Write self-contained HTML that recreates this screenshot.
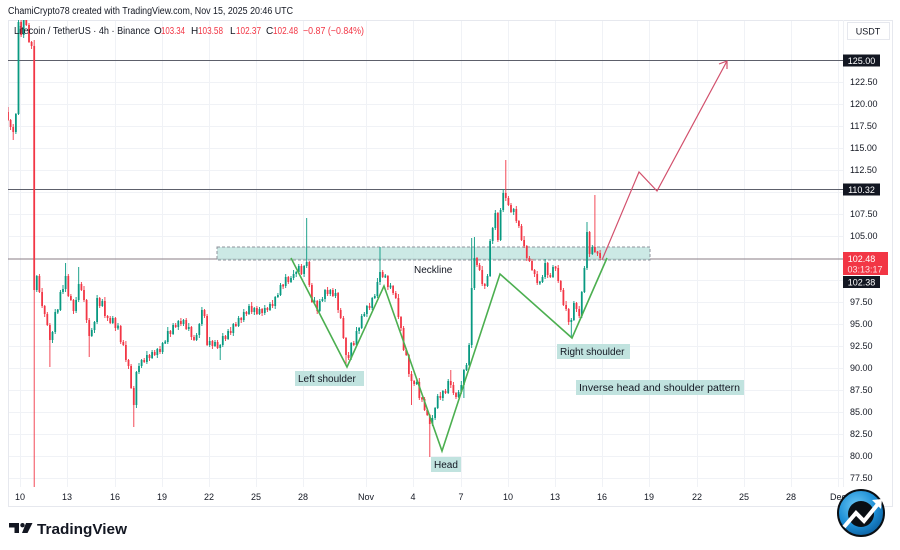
<!DOCTYPE html>
<html>
<head>
<meta charset="utf-8">
<style>
  html,body{margin:0;padding:0;background:#fff;}
  svg{display:block;font-family:"Liberation Sans",Arial,sans-serif;}
</style>
</head>
<body>
<svg width="900" height="550" viewBox="0 0 900 550" xmlns="http://www.w3.org/2000/svg">
  <defs>
    <clipPath id="pane"><rect x="8" y="20" width="835" height="467"/></clipPath>
    <radialGradient id="blue" cx="40%" cy="35%" r="70%">
      <stop offset="0" stop-color="#6cc8f5"/>
      <stop offset="0.6" stop-color="#1d8fd6"/>
      <stop offset="1" stop-color="#0c5e9e"/>
    </radialGradient>
  </defs>
  <rect width="900" height="550" fill="#fff"/>

  <text x="8" y="14" font-size="10" fill="#131722" textLength="285" lengthAdjust="spacingAndGlyphs">ChamiCrypto78 created with TradingView.com, Nov 15, 2025 20:46 UTC</text>

  <!-- grid -->
  <g stroke="#f0f2f6" stroke-width="1">
    <path d="M20.5 20V487M67.5 20V487M115.5 20V487M162.5 20V487M209.5 20V487M256.5 20V487M303.5 20V487M366.5 20V487M413.5 20V487M461.5 20V487M508.5 20V487M555.5 20V487M602.5 20V487M649.5 20V487M697.5 20V487M744.5 20V487M791.5 20V487M838.5 20V487"/>
    <path d="M8 82.5H843M8 104.5H843M8 126.5H843M8 148.5H843M8 170.5H843M8 192.5H843M8 214.5H843M8 236.5H843M8 280.5H843M8 302.5H843M8 324.5H843M8 346.5H843M8 368.5H843M8 390.5H843M8 412.5H843M8 434.5H843M8 456.5H843M8 478.5H843"/>
  </g>

  <!-- frame -->
  <rect x="8.5" y="20.5" width="884" height="486" fill="none" stroke="#e6e8ee"/>
  <line x1="843.5" y1="20" x2="843.5" y2="487" stroke="#eef0f4"/>

  <!-- horizontal levels -->
  <line x1="8" y1="60.5" x2="843" y2="60.5" stroke="#5d606b" stroke-width="1"/>
  <line x1="8" y1="189.5" x2="843" y2="189.5" stroke="#5d606b" stroke-width="1"/>
  <line x1="8" y1="259" x2="843" y2="259" stroke="#8a7e86" stroke-width="1"/>

  <!-- neckline zone -->
  <rect x="217" y="247" width="433" height="13" fill="#bfe3df" fill-opacity="0.8" stroke="#8f939c" stroke-width="1" stroke-dasharray="3,2"/>

  <!-- candles -->
  <g clip-path="url(#pane)" fill="none">
    <path stroke="#089981" stroke-width="0.9" d="M15.9 113V134M18.5 0V115M23.7 0V38M36.8 275V292M52.5 331V343M55.2 309V334M57.8 309V314M60.4 290V311M63 285V294M65.6 263V292M76.1 297V313M78.7 267V302M91.8 328V337M94.5 321V333M97.1 295V324M102.3 299V307M112.8 316V324M118 323V330M136.4 371V408M139 363V374M141.6 359V368M146.9 351V364M152.1 350V359M157.3 348V358M162.6 342V354M165.2 340V344M167.8 327V344M173.1 323V335M178.3 320V330M183.5 319V326M188.8 323V331M196.6 333V341M199.3 323V338M201.9 307V326M209.7 337V347M215 340V347M220.2 344V360M222.8 333V347M228.1 329V340M233.3 323V336M238.6 316V327M243.8 309V322M249 304V315M254.3 307V315M259.5 307V315M264.8 305V315M270 302V311M275.2 296V309M277.9 293V298M280.5 283V296M285.7 274V288M291 276V283M293.6 270V280M296.2 271V277M298.8 264V273M304.1 265V277M306.7 218V268M314.5 297V304M319.8 299V312M322.4 297V302M325 289V302M330.3 289V296M335.5 289V298M351.2 342V360M356.5 327V347M359.1 327V334M361.7 314V329M364.3 312V317M366.9 305V317M372.2 297V310M374.8 294V299M377.4 278V298M380 247V285M385.3 274V278M390.5 283V289M416.7 380V385M432.4 415V426M435.1 407V420M437.7 394V409M442.9 390V401M448.2 379V394M458.6 390V398M461.3 381V394M463.9 369V398M466.5 363V371M469.1 343V366M471.7 238V348M474.4 237V290M487.5 274V287M490.1 239V277M492.7 227V244M495.3 210V230M500.6 208V241M503.2 189V212M513.7 208V215M539.9 281V285M542.5 275V283M545.1 259V279M553 265V278M571.3 318V337M573.9 301V321M581.8 291V318M584.4 266V293M587 222V270M592.3 245V255"/>
    <path stroke="#089981" stroke-width="1.8" d="M15.9 132V114M18.5 114V22M23.7 35V12M36.8 290V276M52.5 340V332M55.2 332V312M57.8 312.5V309.5M60.4 310V292M63 292V289M65.6 289V276M76.1 311V300M78.7 300V284M91.8 336V330M94.5 330V322M97.1 322V298M102.3 306V301M112.8 323V318M118 328.5V325.5M136.4 405V372M139 372V366M141.6 366V360M146.9 362V355M152.1 358V352M157.3 355V349M162.6 352V343M165.2 343.5V341.5M167.8 342V331M173.1 334V325M178.3 327V321M183.5 324V320M188.8 329V327M196.6 340V335M199.3 335V324M201.9 324V310M209.7 345V341M215 346V342M220.2 348V345M222.8 345V336M228.1 339V331M233.3 333V324M238.6 326V318M243.8 320V312M249 314V306M254.3 312V308M259.5 314V309M264.8 313V308M270 310V304M275.2 306V297M277.9 297V295M280.5 295V285M285.7 286V277M291 282V278M293.6 278V274M296.2 274V272M298.8 272V266M304.1 274V266M306.7 266V262M314.5 302.5V300.5M319.8 311V301M322.4 301V299M325 299V290M330.3 294V290M335.5 296V293M351.2 358V343M356.5 345V331M359.1 331V328M361.7 328V316M364.3 316V314M366.9 314V306M372.2 308V298M374.8 298V296M377.4 296V282M380 282V272M385.3 277.5V275.5M390.5 287.5V285.5M416.7 384V382M432.4 424V418M435.1 418V408M437.7 408V396M442.9 398V391M448.2 393V381M458.6 397V392M461.3 392V385M463.9 385V370M466.5 370V365M469.1 365V345M471.7 345V288M474.4 288V258M487.5 286V276M490.1 276V241M492.7 241V228M495.3 228V213M500.6 240V210M503.2 210V193M513.7 212V209M539.9 283.5V281.5M542.5 282V277M545.1 277V263M553 277V267M571.3 322V320M573.9 320V303M581.8 316V292M584.4 292V268M587 268V232M592.3 254V247"/>
    <path stroke="#f23645" stroke-width="0.9" d="M8 107V121M10.6 119V130M13.2 124V140M21.1 18V37M26.3 0V26M29 23V43M31.6 41V49M34.2 40V487M39.4 274V293M42.1 288V308M44.7 305V317M47.3 312V326M49.9 323V367M68.3 274V297M70.9 294V301M73.5 299V314M81.4 282V291M84 286V302M86.6 299V323M89.2 318V357M99.7 297V308M104.9 297V318M107.6 315V321M110.2 316V324M115.4 317V331M120.7 325V344M123.3 340V346M125.9 341V362M128.5 359V369M131.1 364V389M133.8 386V427M144.2 358V363M149.5 354V361M154.7 350V356M160 346V354M170.4 330V337M175.7 323V328M180.9 318V326M186.2 318V330M191.4 326V340M194 335V341M204.5 309V318M207.1 314V346M212.4 340V349M217.6 340V349M225.5 335V341M230.7 327V335M235.9 322V327M241.2 317V323M246.4 311V316M251.7 302V314M256.9 306V315M262.1 308V316M267.4 307V312M272.6 300V308M283.1 284V289M288.3 276V284M301.4 264V275M309.3 261V287M311.9 283V303M317.2 300V314M327.6 287V296M332.9 288V297M338.1 292V313M340.7 308V319M343.4 316V339M346 337V365M348.6 352V360M353.8 341V346M369.6 303V310M382.7 270V278M387.9 275V290M393.1 285V295M395.8 291V299M398.4 294V319M401 316V331M403.6 326V351M406.2 348V356M408.9 354V377M411.5 371V405M414.1 380V386M419.3 378V400M422 397V402M424.6 397V411M427.2 408V416M429.8 414V457M440.3 392V400M445.5 389V394M450.8 370V388M453.4 382V395M456 392V399M477 257V267M479.6 263V271M482.2 266V286M484.8 283V289M497.9 212V242M505.8 160V201M508.4 196V206M511 203V213M516.3 206V223M518.9 220V228M521.5 224V241M524.1 236V248M526.8 245V261M529.4 256V262M532 259V271M534.6 269V277M537.2 271V285M547.7 262V278M550.3 273V278M555.6 266V271M558.2 265V283M560.8 280V292M563.4 288V306M566.1 301V311M568.7 308V325M576.5 302V312M579.2 306V318M589.6 231V257M594.9 195V253M597.5 251V256M600.1 250V260"/>
    <path stroke="#f23645" stroke-width="1.8" d="M8 112V120M10.6 120V127M13.2 127V132M21.1 22V35M26.3 12V25M29 25V42M31.6 42V46M34.2 46V290M39.4 276V292M42.1 292V306M44.7 306V314M47.3 314V325M49.9 325V340M68.3 276V296M70.9 296V300M73.5 300V311M81.4 284V290M84 290V300M86.6 300V320M89.2 320V336M99.7 298V306M104.9 301V316M107.6 316V318M110.2 318V323M115.4 318V328M120.7 326V342M123.3 342V345M125.9 345V360M128.5 360V366M131.1 366V388M133.8 388V405M144.2 360V362M149.5 355V358M154.7 352V355M160 349V352M170.4 331V334M175.7 325V327M180.9 321V324M186.2 320V329M191.4 327V337M194 337V340M204.5 310V316M207.1 316V345M212.4 341V346M217.6 342V348M225.5 336V339M230.7 331V333M235.9 324V326M241.2 318V320M246.4 312V314M251.7 306V312M256.9 308V314M262.1 309V313M267.4 308V310M272.6 304V306M283.1 284.5V286.5M288.3 277V282M301.4 266V274M309.3 262V285M311.9 285V302M317.2 301V311M327.6 290V294M332.9 290V296M338.1 293V310M340.7 310V318M343.4 318V338M346 338V355M348.6 355V358M353.8 343V345M369.6 306V308M382.7 272V277M387.9 276V287M393.1 286V293M395.8 293V298M398.4 298V317M401 317V328M403.6 328V350M406.2 350V355M408.9 355V374M411.5 374V381M414.1 381V384M419.3 382V398M422 397.5V399.5M424.6 399V410M427.2 410V415M429.8 415V424M440.3 396V398M445.5 391V393M450.8 381V385M453.4 385V393M456 393V397M477 258V265M479.6 265V270M482.2 270V284M484.8 284V286M497.9 213V240M505.8 193V198M508.4 198V205M511 205V212M516.3 209V221M518.9 221V226M521.5 226V240M524.1 240V246M526.8 246V258M529.4 258V261M532 261V270M534.6 270V274M537.2 274V283M547.7 263V275M550.3 275V277M555.6 266.5V268.5M558.2 268V281M560.8 281V290M563.4 290V305M566.1 305V309M568.7 309V322M576.5 303V309M579.2 309V316M589.6 232V254M594.9 247V252M597.5 251.5V253.5M600.1 253V258"/>
  </g>

  <!-- pattern lines -->
  <polyline points="291,258 347,367 384,286 442,451 500,274 572,338 607,258" fill="none" stroke="#4caf50" stroke-width="1.6"/>
  <polyline points="602,260 639,172 657,191 727,61" fill="none" stroke="#d2506c" stroke-width="1.2"/>
  <polyline points="719,64 727,61 727,69" fill="none" stroke="#d2506c" stroke-width="1.2"/>

  <!-- labels -->
  <text x="414" y="273" font-size="10" fill="#131722">Neckline</text>
  <rect x="295" y="371" width="69" height="15" fill="#c1e3df"/>
  <text x="298" y="382" font-size="10" fill="#131722">Left shoulder</text>
  <rect x="431" y="457" width="30" height="15" fill="#c1e3df"/>
  <text x="434" y="468" font-size="10" fill="#131722">Head</text>
  <rect x="557" y="344" width="73" height="15" fill="#c1e3df"/>
  <text x="560" y="355" font-size="10" fill="#131722">Right shoulder</text>
  <rect x="576" y="380" width="168" height="15" fill="#c1e3df"/>
  <text x="579" y="391" font-size="10" fill="#131722" textLength="161" lengthAdjust="spacingAndGlyphs">Inverse head and shoulder pattern</text>

  <!-- legend -->
  <g font-size="10" fill="#131722">
    <text x="14" y="34" textLength="136" lengthAdjust="spacingAndGlyphs">Litecoin / TetherUS · 4h · Binance</text>
    <text x="154" y="34">O</text>
    <text x="161" y="34" fill="#f23645" textLength="24" lengthAdjust="spacingAndGlyphs">103.34</text>
    <text x="191" y="34">H</text>
    <text x="198" y="34" fill="#f23645" textLength="25" lengthAdjust="spacingAndGlyphs">103.58</text>
    <text x="230" y="34">L</text>
    <text x="236" y="34" fill="#f23645" textLength="25" lengthAdjust="spacingAndGlyphs">102.37</text>
    <text x="266" y="34">C</text>
    <text x="273" y="34" fill="#f23645" textLength="25" lengthAdjust="spacingAndGlyphs">102.48</text>
    <text x="303" y="34" fill="#f23645" textLength="61" lengthAdjust="spacingAndGlyphs">−0.87 (−0.84%)</text>
  </g>

  <!-- price axis -->
  <rect x="847.5" y="22.5" width="42" height="17" fill="#fff" stroke="#e6e8ee"/>
  <text x="868" y="34.5" font-size="9" fill="#131722" text-anchor="middle">USDT</text>
  <g font-size="9" fill="#131722">
    <text x="850" y="85">122.50</text>
    <text x="850" y="107">120.00</text>
    <text x="850" y="129">117.50</text>
    <text x="850" y="151">115.00</text>
    <text x="850" y="173">112.50</text>
    <text x="850" y="217">107.50</text>
    <text x="850" y="239">105.00</text>
    <text x="850" y="305">97.50</text>
    <text x="850" y="327">95.00</text>
    <text x="850" y="349">92.50</text>
    <text x="850" y="371">90.00</text>
    <text x="850" y="393">87.50</text>
    <text x="850" y="415">85.00</text>
    <text x="850" y="437">82.50</text>
    <text x="850" y="459">80.00</text>
    <text x="850" y="481">77.50</text>
  </g>
  <rect x="843" y="54.5" width="37" height="12" fill="#131722"/>
  <text x="861.5" y="64" font-size="9" fill="#fff" text-anchor="middle">125.00</text>
  <rect x="843" y="183.5" width="37" height="12" fill="#131722"/>
  <text x="861.5" y="193" font-size="9" fill="#fff" text-anchor="middle">110.32</text>
  <rect x="843" y="252" width="45" height="23" fill="#f23645"/>
  <text x="861.5" y="262" font-size="9" fill="#fff" text-anchor="middle">102.48</text>
  <text x="865" y="272.5" font-size="9" fill="#ffe0e3" text-anchor="middle">03:13:17</text>
  <rect x="843" y="276" width="37" height="12" fill="#131722"/>
  <text x="861.5" y="285.5" font-size="9" fill="#fff" text-anchor="middle">102.38</text>

  <!-- time axis -->
  <g font-size="9" fill="#131722" text-anchor="middle">
    <text x="20" y="500">10</text>
    <text x="67" y="500">13</text>
    <text x="115" y="500">16</text>
    <text x="162" y="500">19</text>
    <text x="209" y="500">22</text>
    <text x="256" y="500">25</text>
    <text x="303" y="500">28</text>
    <text x="366" y="500">Nov</text>
    <text x="413" y="500">4</text>
    <text x="461" y="500">7</text>
    <text x="508" y="500">10</text>
    <text x="555" y="500">13</text>
    <text x="602" y="500">16</text>
    <text x="649" y="500">19</text>
    <text x="697" y="500">22</text>
    <text x="744" y="500">25</text>
    <text x="791" y="500">28</text>
    <text x="838" y="500">Dec</text>
  </g>

  <!-- TradingView logo -->
  <g fill="#131722">
    <path d="M9,523 H19 V533 H14.5 V527.5 H9 Z"/>
    <circle cx="22.5" cy="525.2" r="2.2"/>
    <path d="M26,523 H32.5 L27.5,533 H22 Z"/>
  </g>
  <text x="37" y="534" font-size="15" font-weight="bold" fill="#131722" textLength="90" lengthAdjust="spacingAndGlyphs">TradingView</text>

  <!-- bottom-right icon -->
  <g>
    <circle cx="861" cy="513" r="23" fill="url(#blue)" stroke="#0a0f14" stroke-width="2"/>
    <circle cx="861" cy="514" r="13" fill="#0a0f14"/>
    <polyline points="844,527 856,513 864,521 878,504" fill="none" stroke="#fff" stroke-width="4"/>
    <polygon points="872,500 882,499 881,509" fill="#fff"/>
  </g>
</svg>
</body>
</html>
